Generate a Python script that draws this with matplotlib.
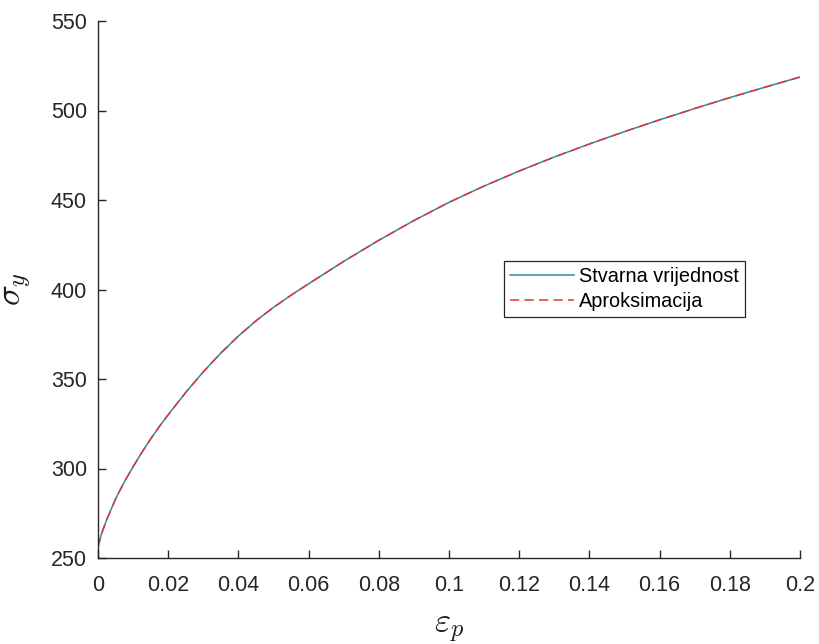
import matplotlib
matplotlib.use("Agg")
import matplotlib.pyplot as plt

# Data
eps_p = [0, 0.001, 0.0025, 0.005, 0.0075, 0.01, 0.0125, 0.015, 0.0175, 0.02,
         0.025, 0.03, 0.035, 0.04, 0.045, 0.05, 0.055, 0.06, 0.07, 0.08, 0.09,
         0.10, 0.11, 0.12, 0.13, 0.14, 0.15, 0.16, 0.17, 0.18, 0.19, 0.20]
sigma_true = [257, 263.5, 271.5, 283, 292.5, 301, 309, 316.5, 323.5, 330,
              342.5, 354, 364.5, 374, 382.5, 390, 396.8, 403.2, 415.7, 427.5,
              438.5, 448.7, 457.8, 466.2, 474.0, 481.3, 488.2, 494.8, 501.1,
              507.2, 513.0, 518.7]
sigma_approx = [256, 263.5, 271.5, 283, 292.5, 301, 309, 316.5, 323.5, 330,
                342.5, 354, 364.5, 374, 382.5, 390, 396.8, 403.2, 415.7, 427.5,
                438.5, 448.7, 457.8, 466.2, 474.0, 481.3, 488.2, 494.8, 501.1,
                507.2, 513.0, 518.7]
series_labels = ["Stvarna vrijednost", "Aproksimacija"]
xticks = [0, 0.02, 0.04, 0.06, 0.08, 0.1, 0.12, 0.14, 0.16, 0.18, 0.2]
xticklabels = ["0", "0.02", "0.04", "0.06", "0.08", "0.1", "0.12", "0.14",
               "0.16", "0.18", "0.2"]
yticks = [250, 300, 350, 400, 450, 500, 550]

plt.rcParams["font.family"] = ["Liberation Sans", "DejaVu Sans"]
plt.rcParams["mathtext.fontset"] = "cm"

fig = plt.figure(figsize=(8.19, 6.44), dpi=100)
ax = fig.add_axes([98 / 819, 1 - 558 / 644, (800 - 98) / 819, (558 - 21) / 644])

ax.plot(eps_p, sigma_true, color="#2b8e9c", lw=1.1, label=series_labels[0])
ax.plot(eps_p, sigma_approx, color="#e0353a", lw=1.1, dashes=(6, 3.5),
        label=series_labels[1])

ax.set_xlim(0, 0.2)
ax.set_ylim(250, 550)
ax.set_xticks(xticks)
ax.set_xticklabels(xticklabels)
ax.set_yticks(yticks)

for s in ["top", "right"]:
    ax.spines[s].set_visible(False)
for s in ["left", "bottom"]:
    ax.spines[s].set_color("#262626")
    ax.spines[s].set_linewidth(1.0)
ax.tick_params(direction="in", length=6, width=1.0, colors="#262626",
               labelsize=15.5, labelcolor="#262626")
ax.tick_params(axis="x", pad=12)
ax.tick_params(axis="y", pad=8)

ax.set_xlabel(r"$\varepsilon_p$", fontsize=25, labelpad=12, color="#1a1a1a")
ax.set_ylabel(r"$\sigma_y$", fontsize=25, labelpad=12, color="#1a1a1a")

leg = ax.legend(loc="upper left", bbox_to_anchor=(504 / 819, 1 - 261 / 644),
                bbox_transform=fig.transFigure, fontsize=14.3, frameon=True,
                fancybox=False, framealpha=1, edgecolor="#262626",
                borderaxespad=0, borderpad=0.32, handlelength=3.2,
                handletextpad=0.25, labelspacing=0.27)
leg.get_frame().set_linewidth(0.9)

fig.savefig("out.png", dpi=100)
